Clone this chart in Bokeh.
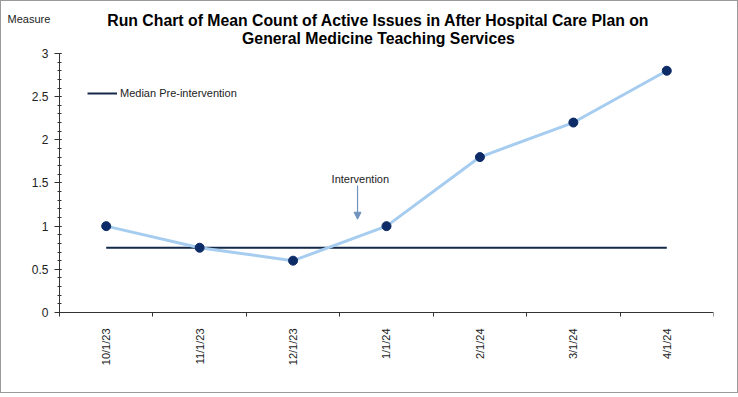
from bokeh.plotting import figure
from bokeh.models import (FixedTicker, SingleIntervalTicker, NumeralTickFormatter,
                          Label, Arrow, NormalHead, ColumnDataSource, Legend, LegendItem)
from bokeh.embed import file_html
from bokeh.resources import INLINE

# ---- data ----
categories = ["10/1/23", "11/1/23", "12/1/23", "1/1/24", "2/1/24", "3/1/24", "4/1/24"]
measure = [1.0, 0.75, 0.6, 1.0, 1.8, 2.2, 2.8]
median_pre = [0.75] * len(categories)
title_lines = ["Run Chart of Mean Count of Active Issues in After Hospital Care Plan on",
               "General Medicine Teaching Services"]
y_min, y_max = 0, 3

n = len(categories)
xpos = [i + 0.5 for i in range(n)]
FONT = "Liberation Sans"

# frame extended around the data so that captions and tick labels live inside it;
# axes are pinned to the data origin and bounded to the data extent
p = figure(width=738, height=393, output_backend="svg", toolbar_location=None,
           x_range=(-0.5994, n), y_range=(-0.927, 3.579),
           min_border_left=2, min_border_right=26, min_border_top=2, min_border_bottom=2)
p.styles = {"border": "1px solid #9a9a9a", "box-sizing": "border-box"}
p.outline_line_color = None
p.xgrid.visible = False
p.ygrid.visible = False
p.background_fill_color = "white"
p.border_fill_color = "white"

# x axis
xa = p.xaxis[0]
xa.fixed_location = 0
xa.bounds = (0, n)
xa.ticker = FixedTicker(ticks=xpos, minor_ticks=list(range(n + 1)))
xa.major_label_overrides = {x: c for x, c in zip(xpos, categories)}
xa.major_tick_line_color = None
xa.minor_tick_out = 4
xa.minor_tick_in = 0
xa.minor_tick_line_color = "#333333"
xa.major_label_orientation = 1.5708
xa.major_label_text_font = FONT
xa.major_label_text_font_size = "11px"
xa.major_label_text_color = "#222222"
xa.major_label_standoff = 10
xa.axis_line_color = "#333333"

# y axis
ya = p.yaxis[0]
ya.fixed_location = 0
ya.bounds = (y_min, y_max)
ya.ticker = SingleIntervalTicker(interval=0.5, num_minor_ticks=5)
ya.formatter = NumeralTickFormatter(format="0.[0]")
ya.major_tick_out = 5
ya.major_tick_in = 2
ya.minor_tick_out = 2
ya.minor_tick_in = 2
ya.major_tick_line_color = "#333333"
ya.minor_tick_line_color = "#333333"
ya.axis_line_color = "#333333"
ya.major_label_text_font = FONT
ya.major_label_text_font_size = "12px"
ya.major_label_text_color = "#222222"
ya.major_label_standoff = 6

# title lines
for ty, line in zip([3.382, 3.174], title_lines):
    p.add_layout(Label(x=3.414, y=ty, text=line, text_font=FONT, text_font_style="bold",
                       text_font_size="15.8px", text_color="#000000",
                       text_align="center", text_baseline="middle"))

# "Measure" caption
p.add_layout(Label(x=-0.5566, y=3.394, text="Measure", text_font=FONT,
                   text_font_size="11px", text_color="#222222",
                   text_align="left", text_baseline="middle"))

# median line
med = p.line(xpos, median_pre, line_color="#14284a", line_width=2)

# measure line + markers
src = ColumnDataSource(dict(x=xpos, y=measure))
p.line("x", "y", source=src, line_color="#a6cdf0", line_width=3)
p.scatter("x", "y", source=src, size=9, fill_color="#0d2b66", line_color="#0d2b66")

legend = Legend(items=[LegendItem(label="Median Pre-intervention", renderers=[med])],
                location=(84, 287), margin=0, padding=0, glyph_width=30,
                glyph_height=24, label_height=24, label_standoff=3,
                label_text_font=FONT, label_text_font_size="11px",
                label_text_color="#222222", border_line_color=None,
                background_fill_alpha=0, spacing=0)
p.add_layout(legend)

# intervention annotation
p.add_layout(Label(x=3.22, y=1.55, text="Intervention", text_font=FONT,
                   text_font_size="11px", text_color="#222222",
                   text_align="center", text_baseline="middle"))
p.add_layout(Arrow(x_start=3.19, y_start=1.47, x_end=3.19, y_end=1.08,
                   line_color="#6f93bd", line_width=1.2,
                   end=NormalHead(size=7, fill_color="#6f93bd", line_color="#6f93bd")))

open("out.html", "w").write(file_html(p, INLINE))
